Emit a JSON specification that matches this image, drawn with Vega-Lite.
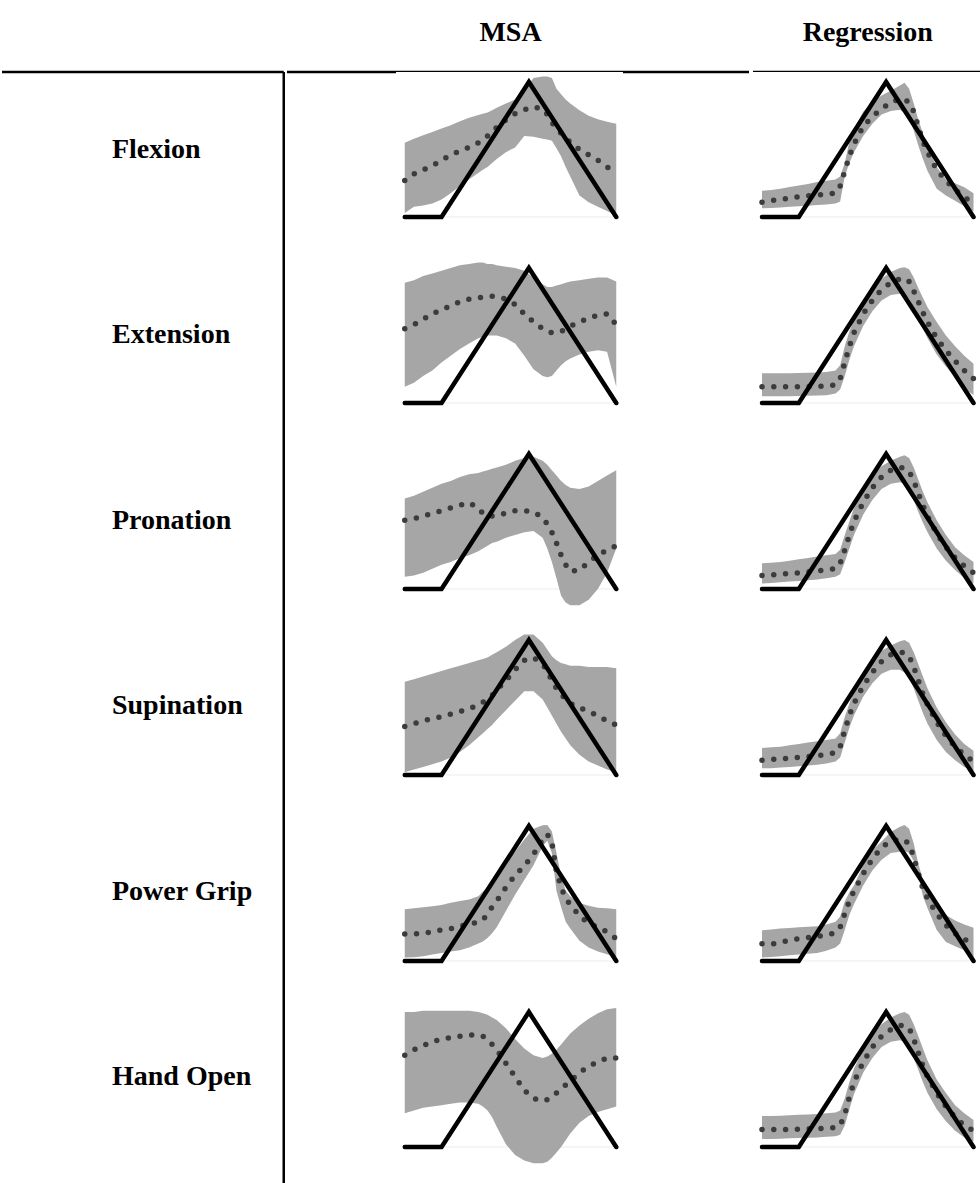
{
  "$schema": "https://vega.github.io/schema/vega-lite/v6.json",
  "padding": 0,
  "background": "white",
  "spacing": 0,
  "config": {"view": {"stroke": null}, "text": {"font": "Liberation Serif"}},
  "datasets": {
    "target": [{"t": 0, "v": 0}, {"t": 40, "v": 0}, {"t": 135, "v": 1}, {"t": 230, "v": 0}],
    "labels": [{"m": "Flexion"}, {"m": "Extension"}, {"m": "Pronation"}, {"m": "Supination"}, {"m": "Power Grip"}, {"m": "Hand Open"}],
    "flexion_msa": [
      {"t":0,"lo":0.03,"hi":0.55,"mu":0.27},{"t":10,"lo":0.075,"hi":0.58,"mu":0.32},{"t":20,"lo":0.085,"hi":0.605,"mu":0.35},{"t":30,"lo":0.10,"hi":0.63,"mu":0.38},{"t":40,"lo":0.13,"hi":0.655,"mu":0.42},{"t":50,"lo":0.175,"hi":0.68,"mu":0.46},{"t":60,"lo":0.23,"hi":0.71,"mu":0.49},{"t":70,"lo":0.28,"hi":0.735,"mu":0.515},{"t":80,"lo":0.325,"hi":0.755,"mu":0.55},{"t":85,"lo":0.35,"hi":0.765,"mu":0.575},{"t":90,"lo":0.37,"hi":0.775,"mu":0.60},{"t":95,"lo":0.40,"hi":0.79,"mu":0.63},{"t":100,"lo":0.43,"hi":0.81,"mu":0.665},{"t":110,"lo":0.48,"hi":0.84,"mu":0.72},{"t":120,"lo":0.515,"hi":0.87,"mu":0.765},{"t":130,"lo":0.60,"hi":0.94,"mu":0.795},{"t":140,"lo":0.595,"hi":1.03,"mu":0.815},{"t":150,"lo":0.58,"hi":1.04,"mu":0.80},{"t":155,"lo":0.575,"hi":1.04,"mu":0.76},{"t":160,"lo":0.565,"hi":1.03,"mu":0.70},{"t":165,"lo":0.51,"hi":0.95,"mu":0.66},{"t":170,"lo":0.45,"hi":0.91,"mu":0.62},{"t":175,"lo":0.37,"hi":0.87,"mu":0.585},{"t":180,"lo":0.30,"hi":0.84,"mu":0.555},{"t":190,"lo":0.16,"hi":0.79,"mu":0.50},{"t":200,"lo":0.11,"hi":0.75,"mu":0.46},{"t":210,"lo":0.075,"hi":0.725,"mu":0.42},{"t":220,"lo":0.045,"hi":0.705,"mu":0.37},{"t":230,"lo":0.01,"hi":0.69,"mu":0.34}
    ],
    "extension_msa": [
      {"t":0,"lo":0.12,"hi":0.89,"mu":0.55},{"t":10,"lo":0.15,"hi":0.91,"mu":0.58},{"t":20,"lo":0.20,"hi":0.94,"mu":0.62},{"t":30,"lo":0.24,"hi":0.96,"mu":0.66},{"t":40,"lo":0.30,"hi":0.98,"mu":0.69},{"t":50,"lo":0.35,"hi":1.0,"mu":0.72},{"t":60,"lo":0.40,"hi":1.02,"mu":0.75},{"t":70,"lo":0.44,"hi":1.03,"mu":0.77},{"t":80,"lo":0.48,"hi":1.04,"mu":0.78},{"t":85,"lo":0.49,"hi":1.04,"mu":0.785},{"t":90,"lo":0.50,"hi":1.03,"mu":0.79},{"t":95,"lo":0.50,"hi":1.03,"mu":0.79},{"t":100,"lo":0.50,"hi":1.02,"mu":0.785},{"t":110,"lo":0.48,"hi":1.01,"mu":0.77},{"t":120,"lo":0.44,"hi":1.0,"mu":0.73},{"t":130,"lo":0.35,"hi":0.98,"mu":0.66},{"t":140,"lo":0.25,"hi":0.93,"mu":0.60},{"t":150,"lo":0.20,"hi":0.88,"mu":0.55},{"t":155,"lo":0.19,"hi":0.86,"mu":0.53},{"t":160,"lo":0.20,"hi":0.86,"mu":0.52},{"t":165,"lo":0.24,"hi":0.87,"mu":0.52},{"t":170,"lo":0.28,"hi":0.88,"mu":0.53},{"t":175,"lo":0.31,"hi":0.89,"mu":0.55},{"t":180,"lo":0.33,"hi":0.90,"mu":0.57},{"t":190,"lo":0.36,"hi":0.91,"mu":0.60},{"t":200,"lo":0.38,"hi":0.92,"mu":0.63},{"t":210,"lo":0.39,"hi":0.93,"mu":0.65},{"t":220,"lo":0.38,"hi":0.93,"mu":0.66},{"t":230,"lo":0.12,"hi":0.90,"mu":0.58}
    ],
    "pronation_msa": [
      {"t":0,"lo":0.09,"hi":0.67,"mu":0.51},{"t":10,"lo":0.10,"hi":0.69,"mu":0.52},{"t":20,"lo":0.12,"hi":0.72,"mu":0.54},{"t":30,"lo":0.15,"hi":0.75,"mu":0.56},{"t":40,"lo":0.18,"hi":0.78,"mu":0.58},{"t":50,"lo":0.20,"hi":0.80,"mu":0.60},{"t":60,"lo":0.23,"hi":0.83,"mu":0.62},{"t":70,"lo":0.25,"hi":0.85,"mu":0.64},{"t":80,"lo":0.28,"hi":0.86,"mu":0.60},{"t":85,"lo":0.30,"hi":0.87,"mu":0.56},{"t":90,"lo":0.32,"hi":0.88,"mu":0.54},{"t":95,"lo":0.34,"hi":0.89,"mu":0.54},{"t":100,"lo":0.35,"hi":0.90,"mu":0.55},{"t":110,"lo":0.38,"hi":0.92,"mu":0.56},{"t":120,"lo":0.40,"hi":0.95,"mu":0.58},{"t":130,"lo":0.42,"hi":0.97,"mu":0.58},{"t":140,"lo":0.43,"hi":0.98,"mu":0.57},{"t":150,"lo":0.38,"hi":0.95,"mu":0.53},{"t":155,"lo":0.30,"hi":0.92,"mu":0.48},{"t":160,"lo":0.20,"hi":0.88,"mu":0.42},{"t":165,"lo":0.08,"hi":0.84,"mu":0.34},{"t":170,"lo":-0.05,"hi":0.80,"mu":0.25},{"t":175,"lo":-0.10,"hi":0.77,"mu":0.18},{"t":180,"lo":-0.12,"hi":0.75,"mu":0.13},{"t":190,"lo":-0.12,"hi":0.74,"mu":0.14},{"t":200,"lo":-0.08,"hi":0.76,"mu":0.20},{"t":210,"lo":0.0,"hi":0.80,"mu":0.25},{"t":220,"lo":0.12,"hi":0.84,"mu":0.29},{"t":230,"lo":0.30,"hi":0.88,"mu":0.32}
    ],
    "supination_msa": [
      {"t":0,"lo":0.02,"hi":0.69,"mu":0.36},{"t":10,"lo":0.04,"hi":0.71,"mu":0.38},{"t":20,"lo":0.06,"hi":0.73,"mu":0.40},{"t":30,"lo":0.08,"hi":0.75,"mu":0.42},{"t":40,"lo":0.10,"hi":0.77,"mu":0.43},{"t":50,"lo":0.13,"hi":0.79,"mu":0.45},{"t":60,"lo":0.17,"hi":0.81,"mu":0.47},{"t":70,"lo":0.22,"hi":0.83,"mu":0.49},{"t":80,"lo":0.28,"hi":0.85,"mu":0.52},{"t":85,"lo":0.31,"hi":0.86,"mu":0.54},{"t":90,"lo":0.34,"hi":0.87,"mu":0.56},{"t":95,"lo":0.37,"hi":0.89,"mu":0.59},{"t":100,"lo":0.41,"hi":0.91,"mu":0.63},{"t":110,"lo":0.48,"hi":0.95,"mu":0.70},{"t":120,"lo":0.55,"hi":1.0,"mu":0.78},{"t":130,"lo":0.62,"hi":1.04,"mu":0.85},{"t":140,"lo":0.62,"hi":1.04,"mu":0.87},{"t":150,"lo":0.56,"hi":0.98,"mu":0.82},{"t":155,"lo":0.50,"hi":0.93,"mu":0.77},{"t":160,"lo":0.44,"hi":0.88,"mu":0.70},{"t":165,"lo":0.38,"hi":0.85,"mu":0.64},{"t":170,"lo":0.32,"hi":0.83,"mu":0.60},{"t":175,"lo":0.27,"hi":0.82,"mu":0.56},{"t":180,"lo":0.22,"hi":0.81,"mu":0.53},{"t":190,"lo":0.15,"hi":0.81,"mu":0.50},{"t":200,"lo":0.10,"hi":0.80,"mu":0.47},{"t":210,"lo":0.07,"hi":0.80,"mu":0.44},{"t":220,"lo":0.04,"hi":0.80,"mu":0.40},{"t":230,"lo":0.02,"hi":0.79,"mu":0.37}
    ],
    "powergrip_msa": [
      {"t":0,"lo":0.025,"hi":0.383,"mu":0.20},{"t":10,"lo":0.028,"hi":0.39,"mu":0.20},{"t":20,"lo":0.035,"hi":0.398,"mu":0.205},{"t":30,"lo":0.048,"hi":0.405,"mu":0.215},{"t":40,"lo":0.06,"hi":0.415,"mu":0.23},{"t":50,"lo":0.07,"hi":0.432,"mu":0.24},{"t":60,"lo":0.08,"hi":0.445,"mu":0.258},{"t":70,"lo":0.10,"hi":0.455,"mu":0.272},{"t":80,"lo":0.13,"hi":0.48,"mu":0.29},{"t":85,"lo":0.145,"hi":0.515,"mu":0.304},{"t":90,"lo":0.17,"hi":0.55,"mu":0.35},{"t":95,"lo":0.205,"hi":0.60,"mu":0.40},{"t":100,"lo":0.25,"hi":0.64,"mu":0.444},{"t":110,"lo":0.37,"hi":0.735,"mu":0.545},{"t":120,"lo":0.49,"hi":0.81,"mu":0.635},{"t":130,"lo":0.60,"hi":0.90,"mu":0.705},{"t":140,"lo":0.71,"hi":0.98,"mu":0.79},{"t":150,"lo":0.85,"hi":1.005,"mu":0.90},{"t":155,"lo":0.89,"hi":1.007,"mu":0.94},{"t":160,"lo":0.80,"hi":0.96,"mu":0.88},{"t":165,"lo":0.52,"hi":0.80,"mu":0.66},{"t":170,"lo":0.40,"hi":0.63,"mu":0.55},{"t":175,"lo":0.29,"hi":0.52,"mu":0.46},{"t":180,"lo":0.24,"hi":0.48,"mu":0.42},{"t":190,"lo":0.15,"hi":0.43,"mu":0.335},{"t":200,"lo":0.10,"hi":0.41,"mu":0.28},{"t":210,"lo":0.07,"hi":0.395,"mu":0.25},{"t":220,"lo":0.05,"hi":0.39,"mu":0.215},{"t":230,"lo":0.025,"hi":0.383,"mu":0.165}
    ],
    "handopen_msa": [
      {"t":0,"lo":0.25,"hi":1.0,"mu":0.68},{"t":10,"lo":0.27,"hi":1.0,"mu":0.72},{"t":20,"lo":0.29,"hi":1.01,"mu":0.75},{"t":30,"lo":0.30,"hi":1.01,"mu":0.78},{"t":40,"lo":0.31,"hi":1.01,"mu":0.80},{"t":50,"lo":0.32,"hi":1.01,"mu":0.81},{"t":60,"lo":0.33,"hi":1.01,"mu":0.82},{"t":70,"lo":0.33,"hi":1.01,"mu":0.83},{"t":80,"lo":0.32,"hi":1.0,"mu":0.83},{"t":85,"lo":0.30,"hi":0.99,"mu":0.82},{"t":90,"lo":0.27,"hi":0.98,"mu":0.80},{"t":95,"lo":0.22,"hi":0.96,"mu":0.76},{"t":100,"lo":0.15,"hi":0.94,"mu":0.72},{"t":110,"lo":0.02,"hi":0.88,"mu":0.62},{"t":120,"lo":-0.06,"hi":0.80,"mu":0.52},{"t":130,"lo":-0.10,"hi":0.73,"mu":0.42},{"t":140,"lo":-0.12,"hi":0.68,"mu":0.36},{"t":150,"lo":-0.12,"hi":0.66,"mu":0.34},{"t":155,"lo":-0.11,"hi":0.67,"mu":0.35},{"t":160,"lo":-0.08,"hi":0.69,"mu":0.37},{"t":165,"lo":-0.04,"hi":0.72,"mu":0.40},{"t":170,"lo":0.0,"hi":0.76,"mu":0.43},{"t":175,"lo":0.05,"hi":0.80,"mu":0.46},{"t":180,"lo":0.10,"hi":0.84,"mu":0.49},{"t":190,"lo":0.18,"hi":0.90,"mu":0.55},{"t":200,"lo":0.23,"hi":0.95,"mu":0.60},{"t":210,"lo":0.26,"hi":0.99,"mu":0.63},{"t":220,"lo":0.28,"hi":1.02,"mu":0.66},{"t":230,"lo":0.30,"hi":1.03,"mu":0.66}
    ],
    "flexion_reg": [
      {"t":0,"lo":0.064,"hi":0.195,"mu":0.11},{"t":10,"lo":0.066,"hi":0.20,"mu":0.122},{"t":20,"lo":0.07,"hi":0.21,"mu":0.13},{"t":30,"lo":0.076,"hi":0.222,"mu":0.14},{"t":40,"lo":0.08,"hi":0.233,"mu":0.15},{"t":50,"lo":0.083,"hi":0.245,"mu":0.156},{"t":60,"lo":0.088,"hi":0.26,"mu":0.162},{"t":70,"lo":0.093,"hi":0.268,"mu":0.168},{"t":80,"lo":0.10,"hi":0.278,"mu":0.178},{"t":85,"lo":0.115,"hi":0.30,"mu":0.23},{"t":90,"lo":0.30,"hi":0.40,"mu":0.34},{"t":95,"lo":0.40,"hi":0.56,"mu":0.45},{"t":100,"lo":0.48,"hi":0.65,"mu":0.54},{"t":110,"lo":0.60,"hi":0.78,"mu":0.67},{"t":120,"lo":0.69,"hi":0.85,"mu":0.745},{"t":130,"lo":0.76,"hi":0.90,"mu":0.80},{"t":140,"lo":0.785,"hi":0.935,"mu":0.85},{"t":150,"lo":0.795,"hi":0.975,"mu":0.875},{"t":155,"lo":0.77,"hi":0.995,"mu":0.87},{"t":160,"lo":0.73,"hi":0.95,"mu":0.85},{"t":165,"lo":0.64,"hi":0.84,"mu":0.78},{"t":170,"lo":0.53,"hi":0.72,"mu":0.67},{"t":175,"lo":0.43,"hi":0.62,"mu":0.56},{"t":180,"lo":0.34,"hi":0.52,"mu":0.48},{"t":190,"lo":0.21,"hi":0.37,"mu":0.35},{"t":200,"lo":0.16,"hi":0.28,"mu":0.27},{"t":210,"lo":0.12,"hi":0.25,"mu":0.20},{"t":220,"lo":0.08,"hi":0.22,"mu":0.15},{"t":230,"lo":0.04,"hi":0.175,"mu":0.09}
    ],
    "extension_reg": [
      {"t":0,"lo":0.05,"hi":0.22,"mu":0.12},{"t":10,"lo":0.05,"hi":0.22,"mu":0.12},{"t":20,"lo":0.05,"hi":0.22,"mu":0.12},{"t":30,"lo":0.05,"hi":0.22,"mu":0.12},{"t":40,"lo":0.052,"hi":0.222,"mu":0.12},{"t":50,"lo":0.054,"hi":0.224,"mu":0.122},{"t":60,"lo":0.056,"hi":0.226,"mu":0.124},{"t":70,"lo":0.058,"hi":0.23,"mu":0.126},{"t":80,"lo":0.07,"hi":0.24,"mu":0.135},{"t":85,"lo":0.10,"hi":0.28,"mu":0.18},{"t":90,"lo":0.20,"hi":0.42,"mu":0.30},{"t":95,"lo":0.32,"hi":0.53,"mu":0.42},{"t":100,"lo":0.42,"hi":0.62,"mu":0.52},{"t":110,"lo":0.57,"hi":0.75,"mu":0.66},{"t":120,"lo":0.68,"hi":0.85,"mu":0.76},{"t":130,"lo":0.76,"hi":0.92,"mu":0.84},{"t":140,"lo":0.80,"hi":0.97,"mu":0.89},{"t":150,"lo":0.81,"hi":1.0,"mu":0.92},{"t":155,"lo":0.80,"hi":1.005,"mu":0.925},{"t":160,"lo":0.77,"hi":0.99,"mu":0.90},{"t":165,"lo":0.70,"hi":0.93,"mu":0.83},{"t":170,"lo":0.62,"hi":0.85,"mu":0.75},{"t":175,"lo":0.55,"hi":0.78,"mu":0.67},{"t":180,"lo":0.48,"hi":0.71,"mu":0.60},{"t":190,"lo":0.36,"hi":0.60,"mu":0.48},{"t":200,"lo":0.27,"hi":0.50,"mu":0.39},{"t":210,"lo":0.19,"hi":0.42,"mu":0.31},{"t":220,"lo":0.11,"hi":0.35,"mu":0.24},{"t":230,"lo":0.06,"hi":0.29,"mu":0.18}
    ],
    "pronation_reg": [
      {"t":0,"lo":0.04,"hi":0.19,"mu":0.10},{"t":10,"lo":0.045,"hi":0.195,"mu":0.105},{"t":20,"lo":0.05,"hi":0.20,"mu":0.11},{"t":30,"lo":0.055,"hi":0.21,"mu":0.115},{"t":40,"lo":0.06,"hi":0.22,"mu":0.12},{"t":50,"lo":0.065,"hi":0.23,"mu":0.127},{"t":60,"lo":0.07,"hi":0.24,"mu":0.134},{"t":70,"lo":0.08,"hi":0.25,"mu":0.142},{"t":80,"lo":0.09,"hi":0.26,"mu":0.15},{"t":85,"lo":0.11,"hi":0.29,"mu":0.19},{"t":90,"lo":0.20,"hi":0.40,"mu":0.29},{"t":95,"lo":0.30,"hi":0.50,"mu":0.40},{"t":100,"lo":0.40,"hi":0.60,"mu":0.50},{"t":110,"lo":0.55,"hi":0.74,"mu":0.64},{"t":120,"lo":0.66,"hi":0.84,"mu":0.75},{"t":130,"lo":0.74,"hi":0.91,"mu":0.83},{"t":140,"lo":0.78,"hi":0.95,"mu":0.88},{"t":150,"lo":0.79,"hi":0.98,"mu":0.90},{"t":155,"lo":0.78,"hi":0.99,"mu":0.895},{"t":160,"lo":0.74,"hi":0.97,"mu":0.87},{"t":165,"lo":0.66,"hi":0.90,"mu":0.80},{"t":170,"lo":0.57,"hi":0.81,"mu":0.71},{"t":175,"lo":0.49,"hi":0.72,"mu":0.62},{"t":180,"lo":0.42,"hi":0.64,"mu":0.54},{"t":190,"lo":0.30,"hi":0.51,"mu":0.41},{"t":200,"lo":0.21,"hi":0.40,"mu":0.31},{"t":210,"lo":0.14,"hi":0.31,"mu":0.23},{"t":220,"lo":0.08,"hi":0.25,"mu":0.17},{"t":230,"lo":0.04,"hi":0.20,"mu":0.12}
    ],
    "supination_reg": [
      {"t":0,"lo":0.05,"hi":0.20,"mu":0.11},{"t":10,"lo":0.05,"hi":0.205,"mu":0.115},{"t":20,"lo":0.055,"hi":0.21,"mu":0.12},{"t":30,"lo":0.06,"hi":0.22,"mu":0.125},{"t":40,"lo":0.065,"hi":0.23,"mu":0.13},{"t":50,"lo":0.07,"hi":0.24,"mu":0.137},{"t":60,"lo":0.075,"hi":0.25,"mu":0.144},{"t":70,"lo":0.085,"hi":0.26,"mu":0.152},{"t":80,"lo":0.10,"hi":0.27,"mu":0.165},{"t":85,"lo":0.13,"hi":0.31,"mu":0.21},{"t":90,"lo":0.24,"hi":0.43,"mu":0.33},{"t":95,"lo":0.35,"hi":0.53,"mu":0.44},{"t":100,"lo":0.44,"hi":0.62,"mu":0.53},{"t":110,"lo":0.58,"hi":0.75,"mu":0.66},{"t":120,"lo":0.68,"hi":0.85,"mu":0.76},{"t":130,"lo":0.75,"hi":0.92,"mu":0.84},{"t":140,"lo":0.78,"hi":0.96,"mu":0.89},{"t":150,"lo":0.78,"hi":0.99,"mu":0.91},{"t":155,"lo":0.76,"hi":1.0,"mu":0.905},{"t":160,"lo":0.72,"hi":0.98,"mu":0.88},{"t":165,"lo":0.64,"hi":0.91,"mu":0.80},{"t":170,"lo":0.55,"hi":0.82,"mu":0.70},{"t":175,"lo":0.46,"hi":0.73,"mu":0.60},{"t":180,"lo":0.38,"hi":0.64,"mu":0.52},{"t":190,"lo":0.26,"hi":0.50,"mu":0.39},{"t":200,"lo":0.17,"hi":0.39,"mu":0.29},{"t":210,"lo":0.11,"hi":0.30,"mu":0.21},{"t":220,"lo":0.06,"hi":0.23,"mu":0.15},{"t":230,"lo":0.03,"hi":0.18,"mu":0.10}
    ],
    "powergrip_reg": [
      {"t":0,"lo":0.025,"hi":0.227,"mu":0.128},{"t":10,"lo":0.03,"hi":0.233,"mu":0.123},{"t":20,"lo":0.036,"hi":0.24,"mu":0.14},{"t":30,"lo":0.042,"hi":0.245,"mu":0.152},{"t":40,"lo":0.048,"hi":0.25,"mu":0.165},{"t":50,"lo":0.054,"hi":0.254,"mu":0.174},{"t":60,"lo":0.06,"hi":0.258,"mu":0.183},{"t":70,"lo":0.075,"hi":0.27,"mu":0.192},{"t":80,"lo":0.10,"hi":0.29,"mu":0.21},{"t":85,"lo":0.13,"hi":0.33,"mu":0.25},{"t":90,"lo":0.23,"hi":0.44,"mu":0.35},{"t":95,"lo":0.34,"hi":0.51,"mu":0.445},{"t":100,"lo":0.42,"hi":0.56,"mu":0.52},{"t":110,"lo":0.56,"hi":0.71,"mu":0.645},{"t":120,"lo":0.67,"hi":0.82,"mu":0.755},{"t":130,"lo":0.75,"hi":0.885,"mu":0.84},{"t":140,"lo":0.80,"hi":0.955,"mu":0.89},{"t":150,"lo":0.81,"hi":0.995,"mu":0.90},{"t":155,"lo":0.815,"hi":1.007,"mu":0.897},{"t":160,"lo":0.80,"hi":0.98,"mu":0.865},{"t":165,"lo":0.74,"hi":0.87,"mu":0.77},{"t":170,"lo":0.64,"hi":0.72,"mu":0.65},{"t":175,"lo":0.48,"hi":0.60,"mu":0.535},{"t":180,"lo":0.39,"hi":0.49,"mu":0.462},{"t":190,"lo":0.23,"hi":0.42,"mu":0.35},{"t":200,"lo":0.14,"hi":0.34,"mu":0.265},{"t":210,"lo":0.11,"hi":0.30,"mu":0.205},{"t":220,"lo":0.08,"hi":0.27,"mu":0.16},{"t":230,"lo":0.025,"hi":0.247,"mu":0.13}
    ],
    "handopen_reg": [
      {"t":0,"lo":0.06,"hi":0.23,"mu":0.13},{"t":10,"lo":0.06,"hi":0.23,"mu":0.13},{"t":20,"lo":0.062,"hi":0.232,"mu":0.13},{"t":30,"lo":0.064,"hi":0.235,"mu":0.13},{"t":40,"lo":0.066,"hi":0.238,"mu":0.132},{"t":50,"lo":0.068,"hi":0.24,"mu":0.134},{"t":60,"lo":0.07,"hi":0.245,"mu":0.136},{"t":70,"lo":0.075,"hi":0.25,"mu":0.14},{"t":80,"lo":0.08,"hi":0.255,"mu":0.145},{"t":85,"lo":0.09,"hi":0.27,"mu":0.16},{"t":90,"lo":0.16,"hi":0.36,"mu":0.24},{"t":95,"lo":0.28,"hi":0.48,"mu":0.37},{"t":100,"lo":0.39,"hi":0.58,"mu":0.48},{"t":110,"lo":0.55,"hi":0.72,"mu":0.63},{"t":120,"lo":0.66,"hi":0.83,"mu":0.74},{"t":130,"lo":0.74,"hi":0.91,"mu":0.82},{"t":140,"lo":0.78,"hi":0.96,"mu":0.87},{"t":150,"lo":0.79,"hi":0.99,"mu":0.90},{"t":155,"lo":0.78,"hi":1.0,"mu":0.90},{"t":160,"lo":0.74,"hi":0.98,"mu":0.88},{"t":165,"lo":0.66,"hi":0.91,"mu":0.80},{"t":170,"lo":0.57,"hi":0.82,"mu":0.70},{"t":175,"lo":0.48,"hi":0.73,"mu":0.60},{"t":180,"lo":0.40,"hi":0.64,"mu":0.52},{"t":190,"lo":0.28,"hi":0.50,"mu":0.40},{"t":200,"lo":0.19,"hi":0.40,"mu":0.30},{"t":210,"lo":0.12,"hi":0.31,"mu":0.22},{"t":220,"lo":0.07,"hi":0.25,"mu":0.16},{"t":230,"lo":0.04,"hi":0.20,"mu":0.12}
    ]
  },
  "hconcat": [
    {
      "spacing": 0,
      "bounds": "flush",
      "vconcat": [
        {
          "width": 281.75, "height": 72,
          "data": {"values": [{}]},
          "mark": {"type": "rule", "color": "black", "strokeWidth": 2.5},
          "encoding": {"y": {"datum": 0, "type": "quantitative", "scale": {"domain": [0, 1]}, "axis": null}}
        },
        {
          "width": 281.75, "height": 1112.4,
          "layer": [
            {
              "data": {"name": "labels"},
              "mark": {"type": "text", "fontSize": 28, "fontWeight": "bold", "align": "left", "baseline": "alphabetic", "dx": -30.9, "dy": -6.7, "color": "black"},
              "encoding": {"y": {"field": "m", "type": "nominal", "sort": null, "axis": null}, "text": {"field": "m"}}
            },
            {
              "data": {"values": [{}]},
              "mark": {"type": "rule", "color": "black", "strokeWidth": 2.5},
              "encoding": {"x": {"datum": 1, "type": "quantitative", "scale": {"domain": [0, 1]}, "axis": null}}
            }
          ]
        }
      ]
    },
    {
      "spacing": 0,
      "bounds": "flush",
      "vconcat": [
        {
          "width": 462, "height": 72,
          "data": {"values": [{"c": "MSA"}]},
          "layer": [
            {"mark": {"type": "text", "fontSize": 28, "fontWeight": "bold", "baseline": "alphabetic", "dy": 5, "color": "black"},
             "encoding": {"x": {"datum": 115, "type": "quantitative", "scale": {"domain": [-128.05, 374.36], "nice": false, "zero": false}, "axis": null}, "text": {"field": "c"}}},
            {"mark": {"type": "rule", "color": "black", "strokeWidth": 2.5},
             "encoding": {"y": {"datum": 0, "type": "quantitative", "scale": {"domain": [0, 1]}, "axis": null}}}
          ]
        },
        {
          "width": 462, "height": 185.4, "data": {"name": "flexion_msa"},
          "layer": [
            {"data": {"values": [{}]}, "mark": {"type": "rect", "color": "white"},
             "encoding": {"x": {"datum": -9.5, "type": "quantitative", "scale": {"domain": [-128.05, 374.36], "nice": false, "zero": false}, "axis": null}, "x2": {"datum": 237.3}, "y": {"datum": 1.0741, "type": "quantitative", "scale": {"domain": [-0.2993, 1.0741], "nice": false, "zero": false}, "axis": null}, "y2": {"datum": 0.9}}},
            {"data": {"values": [{}]}, "mark": {"type": "rule", "color": "#ececec", "strokeWidth": 1}, "encoding": {"x": {"datum": 0, "type": "quantitative"}, "x2": {"datum": 230}, "y": {"datum": 0, "type": "quantitative"}}},
            {"mark": {"type": "area", "color": "#a6a6a6", "opacity": 1}, "encoding": {"x": {"field": "t", "type": "quantitative"}, "y": {"field": "lo", "type": "quantitative"}, "y2": {"field": "hi"}}},
            {"mark": {"type": "line", "color": "#3c3c3c", "strokeWidth": 5.5, "strokeCap": "round", "strokeDash": [0, 11.8]}, "encoding": {"x": {"field": "t", "type": "quantitative"}, "y": {"field": "mu", "type": "quantitative"}}},
            {"data": {"name": "target"}, "mark": {"type": "line", "color": "black", "strokeWidth": 4.5, "strokeCap": "round"}, "encoding": {"x": {"field": "t", "type": "quantitative"}, "y": {"field": "v", "type": "quantitative"}}}
          ]
        },
        {
          "width": 462, "height": 185.4, "data": {"name": "extension_msa"},
          "layer": [
            {"data": {"values": [{}]}, "mark": {"type": "rule", "color": "#ececec", "strokeWidth": 1}, "encoding": {"x": {"datum": 0, "type": "quantitative", "scale": {"domain": [-128.05, 374.36], "nice": false, "zero": false}, "axis": null}, "x2": {"datum": 230}, "y": {"datum": 0, "type": "quantitative", "scale": {"domain": [-0.2993, 1.0741], "nice": false, "zero": false}, "axis": null}}},
            {"mark": {"type": "area", "color": "#a6a6a6", "opacity": 1}, "encoding": {"x": {"field": "t", "type": "quantitative"}, "y": {"field": "lo", "type": "quantitative"}, "y2": {"field": "hi"}}},
            {"mark": {"type": "line", "color": "#3c3c3c", "strokeWidth": 5.5, "strokeCap": "round", "strokeDash": [0, 11.8]}, "encoding": {"x": {"field": "t", "type": "quantitative"}, "y": {"field": "mu", "type": "quantitative"}}},
            {"data": {"name": "target"}, "mark": {"type": "line", "color": "black", "strokeWidth": 4.5, "strokeCap": "round"}, "encoding": {"x": {"field": "t", "type": "quantitative"}, "y": {"field": "v", "type": "quantitative"}}}
          ]
        },
        {
          "width": 462, "height": 185.4, "data": {"name": "pronation_msa"},
          "layer": [
            {"data": {"values": [{}]}, "mark": {"type": "rule", "color": "#ececec", "strokeWidth": 1}, "encoding": {"x": {"datum": 0, "type": "quantitative", "scale": {"domain": [-128.05, 374.36], "nice": false, "zero": false}, "axis": null}, "x2": {"datum": 230}, "y": {"datum": 0, "type": "quantitative", "scale": {"domain": [-0.2993, 1.0741], "nice": false, "zero": false}, "axis": null}}},
            {"mark": {"type": "area", "color": "#a6a6a6", "opacity": 1}, "encoding": {"x": {"field": "t", "type": "quantitative"}, "y": {"field": "lo", "type": "quantitative"}, "y2": {"field": "hi"}}},
            {"mark": {"type": "line", "color": "#3c3c3c", "strokeWidth": 5.5, "strokeCap": "round", "strokeDash": [0, 11.8]}, "encoding": {"x": {"field": "t", "type": "quantitative"}, "y": {"field": "mu", "type": "quantitative"}}},
            {"data": {"name": "target"}, "mark": {"type": "line", "color": "black", "strokeWidth": 4.5, "strokeCap": "round"}, "encoding": {"x": {"field": "t", "type": "quantitative"}, "y": {"field": "v", "type": "quantitative"}}}
          ]
        },
        {
          "width": 462, "height": 185.4, "data": {"name": "supination_msa"},
          "layer": [
            {"data": {"values": [{}]}, "mark": {"type": "rule", "color": "#ececec", "strokeWidth": 1}, "encoding": {"x": {"datum": 0, "type": "quantitative", "scale": {"domain": [-128.05, 374.36], "nice": false, "zero": false}, "axis": null}, "x2": {"datum": 230}, "y": {"datum": 0, "type": "quantitative", "scale": {"domain": [-0.2993, 1.0741], "nice": false, "zero": false}, "axis": null}}},
            {"mark": {"type": "area", "color": "#a6a6a6", "opacity": 1}, "encoding": {"x": {"field": "t", "type": "quantitative"}, "y": {"field": "lo", "type": "quantitative"}, "y2": {"field": "hi"}}},
            {"mark": {"type": "line", "color": "#3c3c3c", "strokeWidth": 5.5, "strokeCap": "round", "strokeDash": [0, 11.8]}, "encoding": {"x": {"field": "t", "type": "quantitative"}, "y": {"field": "mu", "type": "quantitative"}}},
            {"data": {"name": "target"}, "mark": {"type": "line", "color": "black", "strokeWidth": 4.5, "strokeCap": "round"}, "encoding": {"x": {"field": "t", "type": "quantitative"}, "y": {"field": "v", "type": "quantitative"}}}
          ]
        },
        {
          "width": 462, "height": 185.4, "data": {"name": "powergrip_msa"},
          "layer": [
            {"data": {"values": [{}]}, "mark": {"type": "rule", "color": "#ececec", "strokeWidth": 1}, "encoding": {"x": {"datum": 0, "type": "quantitative", "scale": {"domain": [-128.05, 374.36], "nice": false, "zero": false}, "axis": null}, "x2": {"datum": 230}, "y": {"datum": 0, "type": "quantitative", "scale": {"domain": [-0.2993, 1.0741], "nice": false, "zero": false}, "axis": null}}},
            {"mark": {"type": "area", "color": "#a6a6a6", "opacity": 1}, "encoding": {"x": {"field": "t", "type": "quantitative"}, "y": {"field": "lo", "type": "quantitative"}, "y2": {"field": "hi"}}},
            {"mark": {"type": "line", "color": "#3c3c3c", "strokeWidth": 5.5, "strokeCap": "round", "strokeDash": [0, 11.8]}, "encoding": {"x": {"field": "t", "type": "quantitative"}, "y": {"field": "mu", "type": "quantitative"}}},
            {"data": {"name": "target"}, "mark": {"type": "line", "color": "black", "strokeWidth": 4.5, "strokeCap": "round"}, "encoding": {"x": {"field": "t", "type": "quantitative"}, "y": {"field": "v", "type": "quantitative"}}}
          ]
        },
        {
          "width": 462, "height": 185.4, "data": {"name": "handopen_msa"},
          "layer": [
            {"data": {"values": [{}]}, "mark": {"type": "rule", "color": "#ececec", "strokeWidth": 1}, "encoding": {"x": {"datum": 0, "type": "quantitative", "scale": {"domain": [-128.05, 374.36], "nice": false, "zero": false}, "axis": null}, "x2": {"datum": 230}, "y": {"datum": 0, "type": "quantitative", "scale": {"domain": [-0.2993, 1.0741], "nice": false, "zero": false}, "axis": null}}},
            {"mark": {"type": "area", "color": "#a6a6a6", "opacity": 1}, "encoding": {"x": {"field": "t", "type": "quantitative"}, "y": {"field": "lo", "type": "quantitative"}, "y2": {"field": "hi"}}},
            {"mark": {"type": "line", "color": "#3c3c3c", "strokeWidth": 5.5, "strokeCap": "round", "strokeDash": [0, 11.8]}, "encoding": {"x": {"field": "t", "type": "quantitative"}, "y": {"field": "mu", "type": "quantitative"}}},
            {"data": {"name": "target"}, "mark": {"type": "line", "color": "black", "strokeWidth": 4.5, "strokeCap": "round"}, "encoding": {"x": {"field": "t", "type": "quantitative"}, "y": {"field": "v", "type": "quantitative"}}}
          ]
        }
      ]
    },
    {
      "spacing": 0,
      "bounds": "flush",
      "vconcat": [
        {
          "width": 235, "height": 72,
          "data": {"values": [{"c": "Regression"}]},
          "layer": [
            {"mark": {"type": "text", "fontSize": 28, "fontWeight": "bold", "baseline": "alphabetic", "dy": 5, "color": "black"},
             "encoding": {"x": {"datum": 115, "type": "quantitative", "scale": {"domain": [-9.79, 245.77], "nice": false, "zero": false}, "axis": null}, "text": {"field": "c"}}},
            {"mark": {"type": "rule", "color": "black", "strokeWidth": 2.5},
             "encoding": {"y": {"datum": 0, "type": "quantitative", "scale": {"domain": [0, 1]}, "axis": null}}}
          ]
        },
        {
          "width": 235, "height": 185.4, "data": {"name": "flexion_reg"},
          "layer": [
            {"data": {"values": [{}]}, "mark": {"type": "rect", "color": "white"},
             "encoding": {"x": {"datum": -9.79, "type": "quantitative", "scale": {"domain": [-9.79, 245.77], "nice": false, "zero": false}, "axis": null}, "x2": {"datum": 237.1}, "y": {"datum": 1.0741, "type": "quantitative", "scale": {"domain": [-0.2993, 1.0741], "nice": false, "zero": false}, "axis": null}, "y2": {"datum": 0.9}}},
            {"data": {"values": [{}]}, "mark": {"type": "rule", "color": "#ececec", "strokeWidth": 1}, "encoding": {"x": {"datum": 0, "type": "quantitative"}, "x2": {"datum": 230}, "y": {"datum": 0, "type": "quantitative"}}},
            {"mark": {"type": "area", "color": "#a6a6a6", "opacity": 1}, "encoding": {"x": {"field": "t", "type": "quantitative"}, "y": {"field": "lo", "type": "quantitative"}, "y2": {"field": "hi"}}},
            {"mark": {"type": "line", "color": "#3c3c3c", "strokeWidth": 5.5, "strokeCap": "round", "strokeDash": [0, 11.8]}, "encoding": {"x": {"field": "t", "type": "quantitative"}, "y": {"field": "mu", "type": "quantitative"}}},
            {"data": {"name": "target"}, "mark": {"type": "line", "color": "black", "strokeWidth": 4.5, "strokeCap": "round"}, "encoding": {"x": {"field": "t", "type": "quantitative"}, "y": {"field": "v", "type": "quantitative"}}}
          ]
        },
        {
          "width": 235, "height": 185.4, "data": {"name": "extension_reg"},
          "layer": [
            {"data": {"values": [{}]}, "mark": {"type": "rule", "color": "#ececec", "strokeWidth": 1}, "encoding": {"x": {"datum": 0, "type": "quantitative", "scale": {"domain": [-9.79, 245.77], "nice": false, "zero": false}, "axis": null}, "x2": {"datum": 230}, "y": {"datum": 0, "type": "quantitative", "scale": {"domain": [-0.2993, 1.0741], "nice": false, "zero": false}, "axis": null}}},
            {"mark": {"type": "area", "color": "#a6a6a6", "opacity": 1}, "encoding": {"x": {"field": "t", "type": "quantitative"}, "y": {"field": "lo", "type": "quantitative"}, "y2": {"field": "hi"}}},
            {"mark": {"type": "line", "color": "#3c3c3c", "strokeWidth": 5.5, "strokeCap": "round", "strokeDash": [0, 11.8]}, "encoding": {"x": {"field": "t", "type": "quantitative"}, "y": {"field": "mu", "type": "quantitative"}}},
            {"data": {"name": "target"}, "mark": {"type": "line", "color": "black", "strokeWidth": 4.5, "strokeCap": "round"}, "encoding": {"x": {"field": "t", "type": "quantitative"}, "y": {"field": "v", "type": "quantitative"}}}
          ]
        },
        {
          "width": 235, "height": 185.4, "data": {"name": "pronation_reg"},
          "layer": [
            {"data": {"values": [{}]}, "mark": {"type": "rule", "color": "#ececec", "strokeWidth": 1}, "encoding": {"x": {"datum": 0, "type": "quantitative", "scale": {"domain": [-9.79, 245.77], "nice": false, "zero": false}, "axis": null}, "x2": {"datum": 230}, "y": {"datum": 0, "type": "quantitative", "scale": {"domain": [-0.2993, 1.0741], "nice": false, "zero": false}, "axis": null}}},
            {"mark": {"type": "area", "color": "#a6a6a6", "opacity": 1}, "encoding": {"x": {"field": "t", "type": "quantitative"}, "y": {"field": "lo", "type": "quantitative"}, "y2": {"field": "hi"}}},
            {"mark": {"type": "line", "color": "#3c3c3c", "strokeWidth": 5.5, "strokeCap": "round", "strokeDash": [0, 11.8]}, "encoding": {"x": {"field": "t", "type": "quantitative"}, "y": {"field": "mu", "type": "quantitative"}}},
            {"data": {"name": "target"}, "mark": {"type": "line", "color": "black", "strokeWidth": 4.5, "strokeCap": "round"}, "encoding": {"x": {"field": "t", "type": "quantitative"}, "y": {"field": "v", "type": "quantitative"}}}
          ]
        },
        {
          "width": 235, "height": 185.4, "data": {"name": "supination_reg"},
          "layer": [
            {"data": {"values": [{}]}, "mark": {"type": "rule", "color": "#ececec", "strokeWidth": 1}, "encoding": {"x": {"datum": 0, "type": "quantitative", "scale": {"domain": [-9.79, 245.77], "nice": false, "zero": false}, "axis": null}, "x2": {"datum": 230}, "y": {"datum": 0, "type": "quantitative", "scale": {"domain": [-0.2993, 1.0741], "nice": false, "zero": false}, "axis": null}}},
            {"mark": {"type": "area", "color": "#a6a6a6", "opacity": 1}, "encoding": {"x": {"field": "t", "type": "quantitative"}, "y": {"field": "lo", "type": "quantitative"}, "y2": {"field": "hi"}}},
            {"mark": {"type": "line", "color": "#3c3c3c", "strokeWidth": 5.5, "strokeCap": "round", "strokeDash": [0, 11.8]}, "encoding": {"x": {"field": "t", "type": "quantitative"}, "y": {"field": "mu", "type": "quantitative"}}},
            {"data": {"name": "target"}, "mark": {"type": "line", "color": "black", "strokeWidth": 4.5, "strokeCap": "round"}, "encoding": {"x": {"field": "t", "type": "quantitative"}, "y": {"field": "v", "type": "quantitative"}}}
          ]
        },
        {
          "width": 235, "height": 185.4, "data": {"name": "powergrip_reg"},
          "layer": [
            {"data": {"values": [{}]}, "mark": {"type": "rule", "color": "#ececec", "strokeWidth": 1}, "encoding": {"x": {"datum": 0, "type": "quantitative", "scale": {"domain": [-9.79, 245.77], "nice": false, "zero": false}, "axis": null}, "x2": {"datum": 230}, "y": {"datum": 0, "type": "quantitative", "scale": {"domain": [-0.2993, 1.0741], "nice": false, "zero": false}, "axis": null}}},
            {"mark": {"type": "area", "color": "#a6a6a6", "opacity": 1}, "encoding": {"x": {"field": "t", "type": "quantitative"}, "y": {"field": "lo", "type": "quantitative"}, "y2": {"field": "hi"}}},
            {"mark": {"type": "line", "color": "#3c3c3c", "strokeWidth": 5.5, "strokeCap": "round", "strokeDash": [0, 11.8]}, "encoding": {"x": {"field": "t", "type": "quantitative"}, "y": {"field": "mu", "type": "quantitative"}}},
            {"data": {"name": "target"}, "mark": {"type": "line", "color": "black", "strokeWidth": 4.5, "strokeCap": "round"}, "encoding": {"x": {"field": "t", "type": "quantitative"}, "y": {"field": "v", "type": "quantitative"}}}
          ]
        },
        {
          "width": 235, "height": 185.4, "data": {"name": "handopen_reg"},
          "layer": [
            {"data": {"values": [{}]}, "mark": {"type": "rule", "color": "#ececec", "strokeWidth": 1}, "encoding": {"x": {"datum": 0, "type": "quantitative", "scale": {"domain": [-9.79, 245.77], "nice": false, "zero": false}, "axis": null}, "x2": {"datum": 230}, "y": {"datum": 0, "type": "quantitative", "scale": {"domain": [-0.2993, 1.0741], "nice": false, "zero": false}, "axis": null}}},
            {"mark": {"type": "area", "color": "#a6a6a6", "opacity": 1}, "encoding": {"x": {"field": "t", "type": "quantitative"}, "y": {"field": "lo", "type": "quantitative"}, "y2": {"field": "hi"}}},
            {"mark": {"type": "line", "color": "#3c3c3c", "strokeWidth": 5.5, "strokeCap": "round", "strokeDash": [0, 11.8]}, "encoding": {"x": {"field": "t", "type": "quantitative"}, "y": {"field": "mu", "type": "quantitative"}}},
            {"data": {"name": "target"}, "mark": {"type": "line", "color": "black", "strokeWidth": 4.5, "strokeCap": "round"}, "encoding": {"x": {"field": "t", "type": "quantitative"}, "y": {"field": "v", "type": "quantitative"}}}
          ]
        }
      ]
    }
  ]
}
